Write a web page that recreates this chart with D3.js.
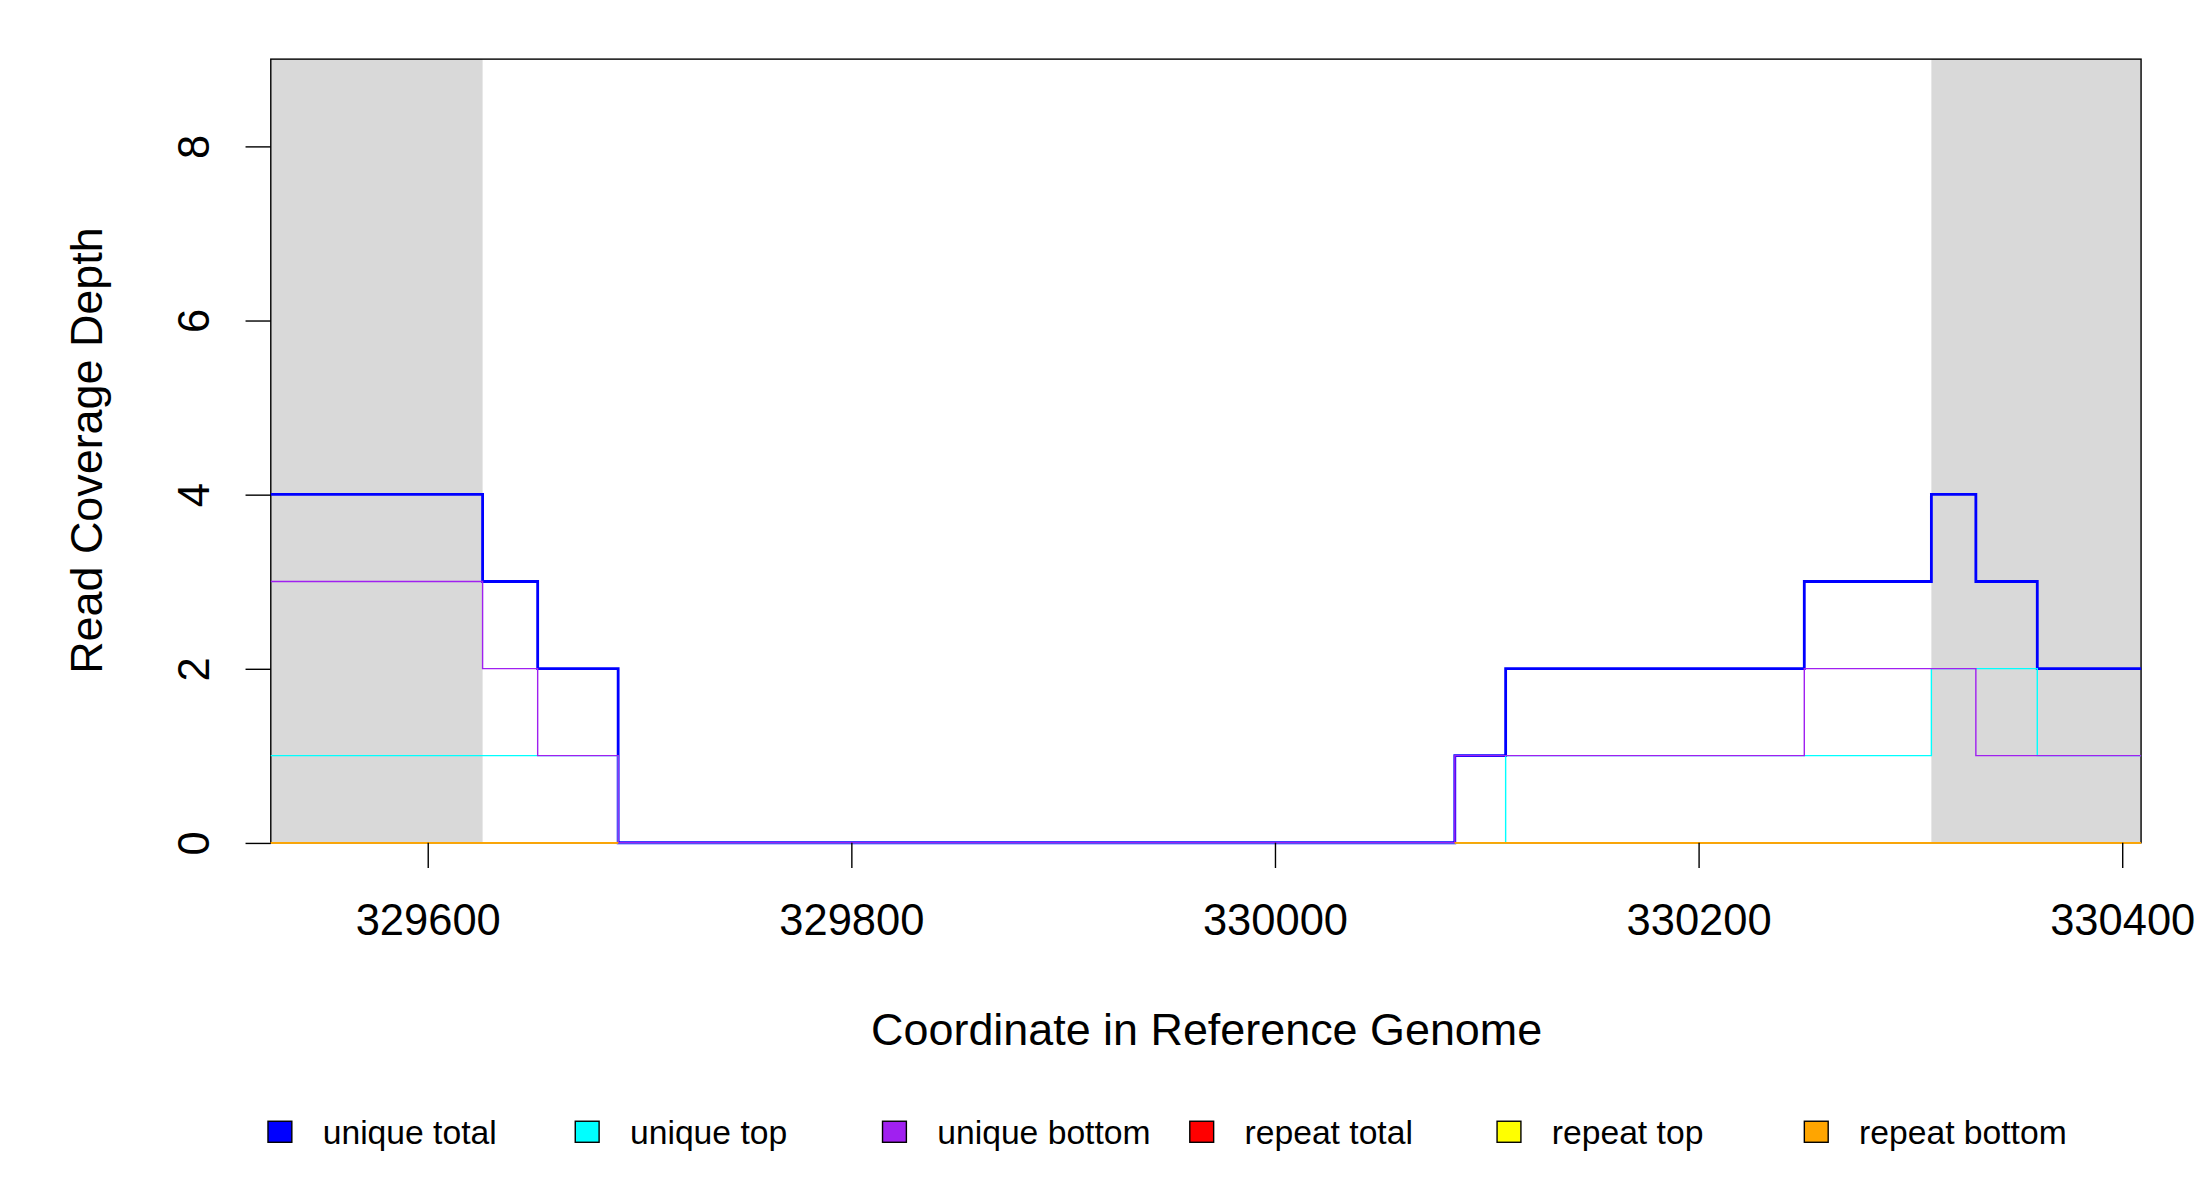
<!DOCTYPE html>
<html><head><meta charset="utf-8">
<script src="https://cdn.jsdelivr.net/npm/d3@7"></script>
<style>body{margin:0;background:#fff}svg{display:block}text{font-family:"Liberation Sans",Arial,sans-serif}</style>
</head><body><svg id="chart"></svg>
<script>
// step series: breakpoints (start coordinate) and depth per segment
const xStart = 329526, xEnd = 330409;
const shaded = [[329526, 329626], [330310, 330409]];
const uniqueTotal = [[329526,4],[329626,3],[329652,2],[329690,0],[330085,1],[330109,2],[330250,3],[330310,4],[330331,3],[330360,2]];
const uniqueTop = [[329526,1],[329690,0],[330109,1],[330310,2],[330360,1]];
const uniqueBottom = [[329526,3],[329626,2],[329652,1],[329690,0],[330085,1],[330250,2],[330331,1]];
const repeatTotal = [[329526,0]];
const repeatTop = [[329526,0]];
const repeatBottom = [[329526,0]];
const xTicks = [329600, 329800, 330000, 330200, 330400];
const yTicks = [0, 2, 4, 6, 8];
const legendNames = ['unique total','unique top','unique bottom','repeat total','repeat top','repeat bottom'];
const legendColors = ['#0000ff','#00ffff','#a020f0','#ff0000','#ffff00','#ffa500'];

const W = 1568, H = 855;
const FONT = '"Liberation Sans",Arial,sans-serif';
const svg = d3.select('#chart').attr('width', 2200).attr('height', 1200).attr('viewBox', `0 0 ${W} ${H}`);
const x = d3.scaleLinear().domain([xStart, xEnd]).range([193, 1526]);
const y = d3.scaleLinear().domain([0, 9]).range([600.5, 42]);

svg.selectAll('.shade').data(shaded).enter().append('rect')
  .attr('x', d => x(d[0])).attr('width', d => x(d[1]) - x(d[0]))
  .attr('y', y(9)).attr('height', y(0) - y(9)).attr('fill', '#d9d9d9');

svg.append('rect').attr('x', 193).attr('y', 42).attr('width', 1333).attr('height', y(0) - 42)
  .attr('fill', 'none').attr('stroke', '#000').attr('stroke-width', 1);

const line = d3.line().curve(d3.curveStepAfter).x(d => x(d[0])).y(d => y(d[1]));
const withEnd = s => s.concat([[xEnd, s[s.length - 1][1]]]);
const series = [
  [uniqueTotal, legendColors[0], 2], [uniqueTop, legendColors[1], 1], [uniqueBottom, legendColors[2], 1],
  [repeatTotal, legendColors[3], 1], [repeatTop, legendColors[4], 1], [repeatBottom, legendColors[5], 1]
];
// repeat lines only outside the span where unique lines sit on zero
series.forEach(([s, c, w], i) => {
  if (i < 3) {
    svg.append('path').attr('d', line(withEnd(s))).attr('fill', 'none').attr('stroke', c).attr('stroke-width', w);
  } else {
    [[xStart, 329690], [330085, xEnd]].forEach(([a, b]) =>
      svg.append('path').attr('d', line([[a, s[0][1]], [b, s[0][1]]])).attr('fill', 'none').attr('stroke', c).attr('stroke-width', w));
  }
});

const xAxis = svg.append('g').attr('transform', `translate(0,${y(0)})`)
  .call(d3.axisBottom(x).tickValues(xTicks).tickFormat(d3.format('d')).tickSize(18).tickPadding(26));
xAxis.select('.domain').remove();
xAxis.selectAll('text').attr('font-size', 31).attr('fill', '#000').style('font-family', FONT);

const yAxis = svg.append('g').attr('transform', 'translate(193,0)')
  .call(d3.axisLeft(y).tickValues(yTicks).tickSize(18));
yAxis.select('.domain').remove();
yAxis.selectAll('text').attr('font-size', 31).attr('fill', '#000').attr('text-anchor', 'middle')
  .attr('transform', 'rotate(-90,-55,0)').attr('x', -55).attr('dy', '0.35em')
  .style('font-family', FONT);

svg.append('text').attr('x', 860).attr('y', 745).attr('text-anchor', 'middle').attr('font-size', 32)
  .text('Coordinate in Reference Genome');
svg.append('text').attr('transform', 'translate(73,321) rotate(-90)').attr('text-anchor', 'middle').attr('font-size', 32)
  .text('Read Coverage Depth');

const lg = svg.selectAll('.lg').data(legendNames).enter().append('g')
  .attr('transform', (d, i) => `translate(${191 + i * 219},799)`);
lg.append('rect').attr('width', 17).attr('height', 15).attr('fill', (d, i) => legendColors[i]).attr('stroke', '#000');
lg.append('text').attr('x', 39).attr('y', 16).attr('font-size', 24).text(d => d);
</script></body></html>
